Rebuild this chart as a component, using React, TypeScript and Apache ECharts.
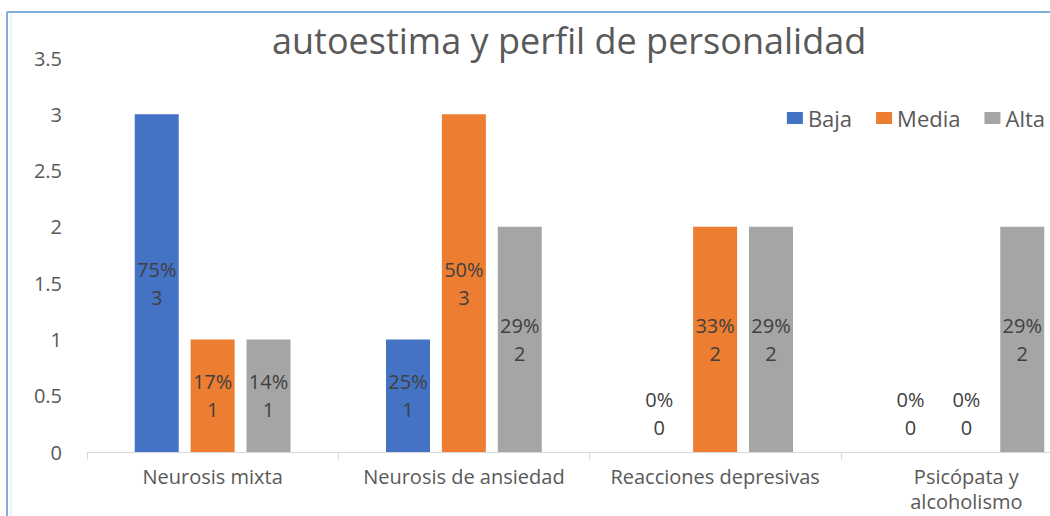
import React, { useEffect, useRef } from "react";
import * as echarts from "echarts";

const categories = [
  "Neurosis mixta",
  "Neurosis de ansiedad",
  "Reacciones depresivas",
  "Psicópata y\nalcoholismo",
];
const seriesNames = ["Baja", "Media", "Alta"];
const baja = [3, 1, 0, 0];
const media = [1, 3, 2, 0];
const alta = [1, 2, 2, 2];
const yTicks = { min: 0, max: 3.5, interval: 0.5 };
const colors = ["#4472C4", "#ED7D31", "#A5A5A5"];
const titleText = "autoestima y perfil de personalidad";

const FONT = "'Open Sans', 'Noto Sans', sans-serif";
const W = 1100;

export default function App() {
  const ref = useRef<HTMLDivElement>(null);
  useEffect(() => {
    if (!ref.current) return;
    const chart = echarts.init(ref.current, undefined, { renderer: "svg" });
    const all = [baja, media, alta];
    const series = all.map((arr, si) => {
      const total = arr.reduce((a, b) => a + b, 0);
      return {
        name: seriesNames[si],
        type: "bar",
        barWidth: 44,
        barGap: "27%",
        itemStyle: { color: colors[si] },
        label: {
          show: true,
          position: "inside",
          color: "#404040",
          fontFamily: FONT,
          fontSize: 20,
          lineHeight: 28,
          formatter: (p: any) =>
            `${Math.round((p.value / total) * 100)}%\n${p.value}`,
        },
        data: arr.map((v) =>
          v === 0
            ? { value: v, label: { position: "top", distance: 11 } }
            : { value: v }
        ),
      };
    });
    chart.setOption({
      animation: false,
      backgroundColor: "#ffffff",
      title: {
        text: titleText,
        left: 272,
        top: 22,
        padding: 0,
        textStyle: {
          color: "#595959",
          fontFamily: FONT,
          fontSize: 36,
          fontWeight: "normal",
        },
      },
      legend: {
        data: seriesNames,
        right: W - 1045,
        top: 107,
        padding: 0,
        itemGap: 24,
        itemWidth: 16,
        itemHeight: 12,
        icon: "rect",
        textStyle: { color: "#595959", fontFamily: FONT, fontSize: 22 },
      },
      grid: {
        left: 87,
        top: 58,
        width: 1005,
        height: 394,
        outerBoundsMode: "none",
        containLabel: false,
      },
      xAxis: {
        type: "category",
        data: categories,
        axisLine: { lineStyle: { color: "#D9D9D9", width: 1 } },
        axisTick: { show: true, length: 8, lineStyle: { color: "#D9D9D9" } },
        axisLabel: {
          color: "#595959",
          fontFamily: FONT,
          fontSize: 20,
          lineHeight: 25,
          margin: 12,
          interval: 0,
        },
      },
      yAxis: {
        type: "value",
        min: yTicks.min,
        max: yTicks.max,
        interval: yTicks.interval,
        axisLine: { show: false },
        axisTick: { show: false },
        splitLine: { show: false },
        axisLabel: {
          color: "#595959",
          fontFamily: FONT,
          fontSize: 20,
          margin: 25,
        },
      },
      graphic: [
        {
          type: "line",
          shape: { x1: 7, y1: 12, x2: W, y2: 12 },
          style: { stroke: "#7FAEDD", lineWidth: 2 },
        },
        {
          type: "line",
          shape: { x1: 7, y1: 12, x2: 7, y2: 516 },
          style: { stroke: "#7FAEDD", lineWidth: 2 },
        },
        {
          type: "line",
          shape: { x1: 11, y1: 14, x2: 11, y2: 516 },
          style: { stroke: "#E3E3E3", lineWidth: 1 },
        },
      ],
      series,
    });
    return () => chart.dispose();
  }, []);
  return (
    <div
      ref={ref}
      style={{ position: "fixed", left: 0, top: 0, width: W, height: 516 }}
    />
  );
}
